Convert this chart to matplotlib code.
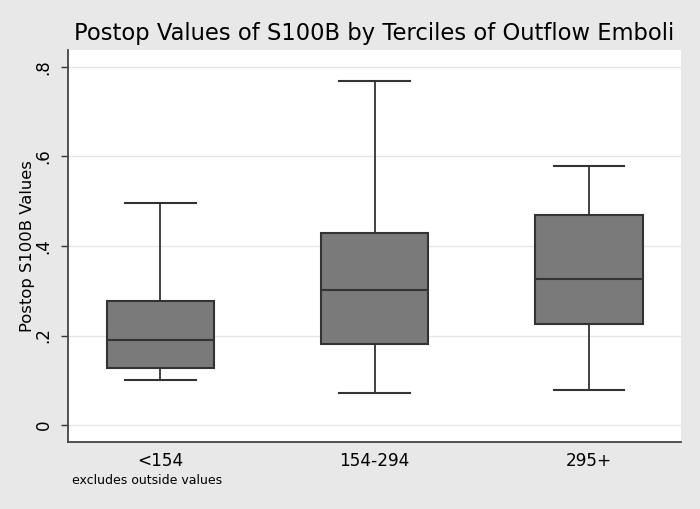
import matplotlib.pyplot as plt

groups = ['<154', '154-294', '295+']
whis_lo = [0.101, 0.072, 0.078]
q1 = [0.128, 0.180, 0.225]
median = [0.191, 0.301, 0.327]
q3 = [0.278, 0.428, 0.469]
whis_hi = [0.495, 0.768, 0.579]

bg = '#e8e8e8'
edge = '#333333'

stats = []
for g, lo, a, m, b, hi in zip(groups, whis_lo, q1, median, q3, whis_hi):
    stats.append({'label': g, 'whislo': lo, 'q1': a, 'med': m, 'q3': b, 'whishi': hi, 'fliers': []})

fig = plt.figure(figsize=(7, 5.09), dpi=100, facecolor=bg)
ax = fig.add_axes([0.0971, 0.1316, 0.876, 0.7702])
ax.set_facecolor('white')

ax.bxp(stats, positions=[1, 2, 3], widths=0.5, patch_artist=True, showfliers=False,
       boxprops=dict(facecolor='#7a7a7a', edgecolor=edge, linewidth=1.5),
       medianprops=dict(color=edge, linewidth=1.5),
       whiskerprops=dict(color=edge, linewidth=1.3),
       capprops=dict(color=edge, linewidth=1.5),
       capwidths=0.33, zorder=3)

ax.set_xlim(0.57, 3.43)
ax.set_ylim(-0.038, 0.838)
ax.set_yticks([0, 0.2, 0.4, 0.6, 0.8])
ax.set_yticklabels(['0', '.2', '.4', '.6', '.8'], rotation=90, va='center', fontsize=12)
ax.set_xticks([1, 2, 3])
ax.set_xticklabels(groups, fontsize=12.2)
ax.tick_params(axis='x', length=0, pad=7)
ax.tick_params(axis='y', length=5, width=1, color=edge, pad=6)
ax.grid(axis='y', color='#e6e6e6', linewidth=1, zorder=0)

for s in ['top', 'right']:
    ax.spines[s].set_visible(False)
for s in ['left', 'bottom']:
    ax.spines[s].set_color('#444444')
    ax.spines[s].set_linewidth(1.3)

fig.text(0.039, 0.517, 'Postop S100B Values', rotation=90, ha='center', va='center', fontsize=11.8)
fig.text(0.535, 0.922, 'Postop Values of S100B by Terciles of Outflow Emboli',
         ha='center', va='baseline', fontsize=16.3)
fig.text(0.103, 0.049, 'excludes outside values', fontsize=9)

fig.savefig('out.png', dpi=100, facecolor=bg)
